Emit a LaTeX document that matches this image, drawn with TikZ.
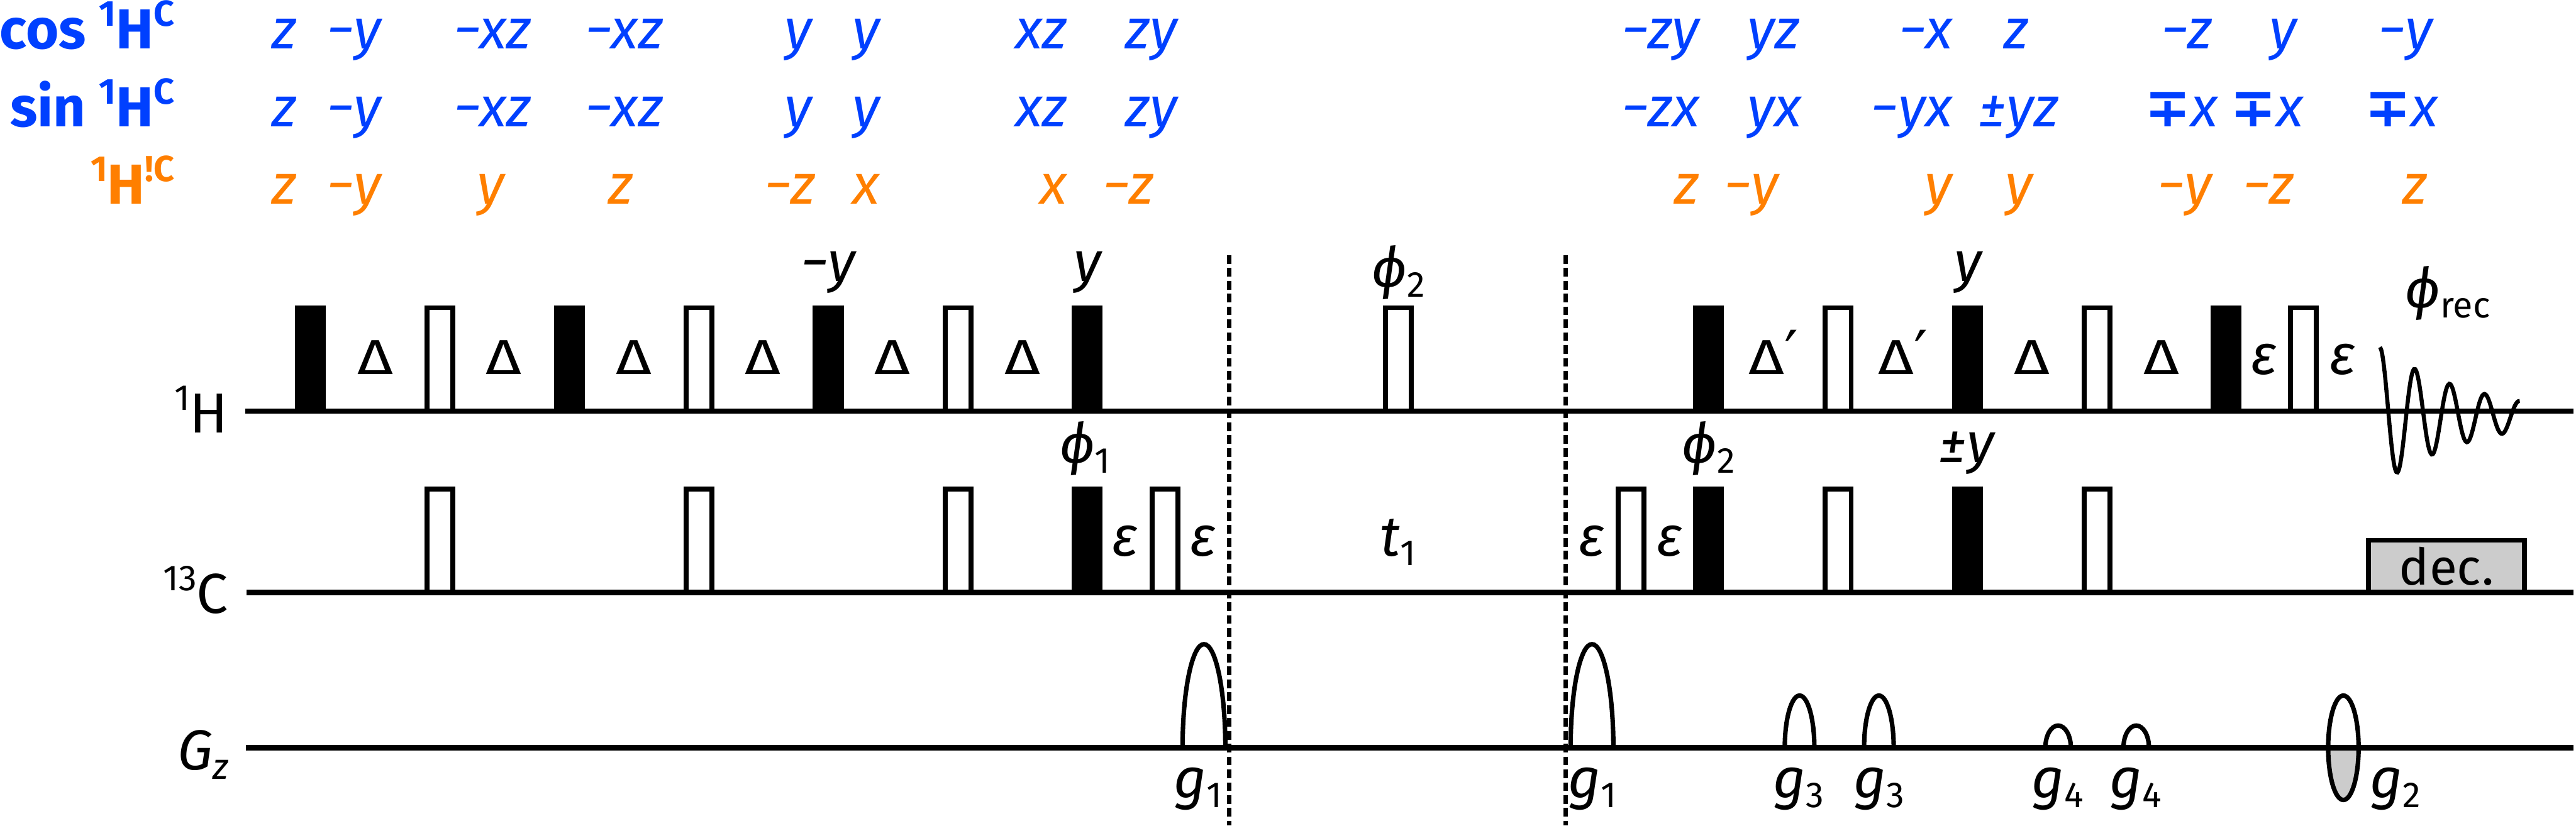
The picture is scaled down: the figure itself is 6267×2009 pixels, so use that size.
\documentclass[tikz,border=0pt]{standalone}
\usepackage{fontspec}
\setmainfont{Fira Sans}
\newfontfamily\symf{DejaVu Sans}
\usepackage{xcolor}
\usepackage{graphicx}
\usetikzlibrary{arrows.meta,positioning,calc}
\definecolor{cosblue}{HTML}{0040FF}
\definecolor{offorange}{HTML}{FF7F00}
\newcommand{\fs}[1]{\fontsize{#1}{#1}\selectfont}
\newcommand{\upr}[1]{\raisebox{15.6pt}{\fs{25}#1}}
\newcommand{\dnr}[1]{\raisebox{-6.5pt}{\fs{25}\upshape #1}}
\newcommand{\mpm}{{\symf\upshape\bfseries\fs{38}∓}}
\newcommand{\dlt}{\scalebox{1.25}[1]{Δ}}
\newcommand{\prm}{{\symf\fs{42}′}}

\begin{document}
\begin{tikzpicture}[x=0.01cm, y=-0.01cm,
  chan/.style={line width=3.6pt},
  hrd/.style={rectangle,fill=black,inner sep=0,outer sep=0,anchor=south,minimum width=0.75cm,minimum height=2.64cm},
  sft/.style={rectangle,draw,fill=white,line width=3.4pt,inner sep=0,anchor=south,minimum width=0.63cm,minimum height=2.52cm},
  decb/.style={rectangle,draw,fill=black!20,line width=3.4pt,inner sep=0,anchor=south,minimum width=3.79cm,minimum height=1.27cm,font=\fs{35}},
  grd/.style={line width=3.1pt},
  sep/.style={line width=3pt,dash pattern=on 6pt off 2.9pt},
  lbl/.style={anchor=base,inner sep=0,font=\fs{39}\itshape},
  dly/.style={anchor=base,inner sep=0,font=\fs{34}},
  chn/.style={anchor=base east,inner sep=0,font=\fs{39}},
  ttl/.style={anchor=base east,inner sep=0,font=\fs{39}\bfseries},
  cs/.style={lbl,text=cosblue},
  of/.style={lbl,text=offorange}]
  \useasboundingbox (0,0) rectangle (6267,2009);
  % Row titles
  \node[ttl,text=cosblue] (tcos) at (425,119) {cos \upr{1}H\upr{C}};
  \node[ttl,text=cosblue] (tsin) at (425,308) {sin \upr{1}H\upr{C}};
  \node[ttl,text=offorange] (toff) at (425,497) {\upr{1}H\upr{!C}};
  % Coherences: cos row
  \node[cs] (c1) at (691,119) {z};
  \node[cs] (c2) at (861,119) {−y};
  \node[cs] (c3) at (1198,119) {−xz};
  \node[cs] (c4) at (1518,119) {−xz};
  \node[cs] (c5) at (1942,119) {y};
  \node[cs] (c6) at (2107,119) {y};
  \node[cs] (c7) at (2533,119) {xz};
  \node[cs] (c8) at (2801,119) {zy};
  \node[cs] (c9) at (4040,119) {−zy};
  \node[cs] (c10) at (4314,119) {yz};
  \node[cs] (c11) at (4685,119) {−x};
  \node[cs] (c12) at (4905,119) {z};
  \node[cs] (c13) at (5320,119) {−z};
  \node[cs] (c14) at (5555,119) {y};
  \node[cs] (c15) at (5852,119) {−y};
  % Coherences: sin row
  \node[cs] (s1) at (691,308) {z};
  \node[cs] (s2) at (861,308) {−y};
  \node[cs] (s3) at (1198,308) {−xz};
  \node[cs] (s4) at (1518,308) {−xz};
  \node[cs] (s5) at (1942,308) {y};
  \node[cs] (s6) at (2107,308) {y};
  \node[cs] (s7) at (2533,308) {xz};
  \node[cs] (s8) at (2801,308) {zy};
  \node[cs] (s9) at (4040,308) {−zx};
  \node[cs] (s10) at (4317,308) {yx};
  \node[cs] (s11) at (4651,308) {−yx};
  \node[cs] (s12) at (4911,308) {±yz};
  \node[cs] (s13) at (5307,308) {\mpm x};
  \node[cs] (s14) at (5515,308) {\mpm x};
  \node[cs] (s15) at (5842,308) {\mpm x};
  % Coherences: off row
  \node[of] (o1) at (691,497) {z};
  \node[of] (o2) at (861,497) {−y};
  \node[of] (o3) at (1194,497) {y};
  \node[of] (o4) at (1510,497) {z};
  \node[of] (o5) at (1921,497) {−z};
  \node[of] (o6) at (2107,497) {x};
  \node[of] (o7) at (2563,497) {x};
  \node[of] (o8) at (2745,497) {−z};
  \node[of] (o9) at (4103,497) {z};
  \node[of] (o10) at (4261,497) {−y};
  \node[of] (o11) at (4716,497) {y};
  \node[of] (o12) at (4911,497) {y};
  \node[of] (o13) at (5315,497) {−y};
  \node[of] (o14) at (5518,497) {−z};
  \node[of] (o15) at (5875,497) {z};
  % Channels
  \node[chn] (lH) at (556,1053) {\upr{1}H};
  \node[chn] (lC) at (556,1493) {\upr{13}C};
  \node[chn] (lG) at (556,1873) {\textit{G}\dnr{\itshape z}};
  \coordinate (hs) at (597,1001);
  \coordinate (he) at (6261,1001);
  \coordinate (cs) at (600,1442);
  \coordinate (ce) at (6261,1442);
  \coordinate (gs) at (598,1820);
  \coordinate (ge) at (6261,1820);
  % Left: proton pulses
  \node[hrd] (h1) at (755,1007) {};
  \node[sft] (h2) at (1070,1007) {};
  \node[hrd] (h3) at (1386,1007) {};
  \node[sft] (h4) at (1701,1007) {};
  \node[hrd] (h5) at (2015,1007) {};
  \node[sft] (h6) at (2331,1007) {};
  \node[hrd] (h7) at (2645,1007) {};
  % Middle and right: proton pulses
  \node[sft] (h8) at (3402,1007) {};
  \node[hrd] (h9) at (4156,1007) {};
  \node[sft] (h10) at (4472,1007) {};
  \node[hrd] (h11) at (4787,1007) {};
  \node[sft] (h12) at (5102,1007) {};
  \node[hrd] (h13) at (5416,1007) {};
  \node[sft] (h14) at (5604,1007) {};
  % Carbon pulses
  \node[sft] (k1) at (1070,1448) {};
  \node[sft] (k2) at (1701,1448) {};
  \node[sft] (k3) at (2331,1448) {};
  \node[hrd] (k4) at (2645,1448) {};
  \node[sft] (k5) at (2834,1448) {};
  \node[sft] (k6) at (3968,1448) {};
  \node[hrd] (k7) at (4156,1448) {};
  \node[sft] (k8) at (4472,1448) {};
  \node[hrd] (k9) at (4787,1448) {};
  \node[sft] (k10) at (5102,1448) {};
  \node[decb] (dec) at (5952,1448) {dec.};
  % Gradients
  \draw[grd] (2877,1820) arc[start angle=180,end angle=0,x radius=0.52cm,y radius=2.52cm];
  \draw[grd] (3821,1820) arc[start angle=180,end angle=0,x radius=0.52cm,y radius=2.52cm];
  \draw[grd] (4342,1820) arc[start angle=180,end angle=0,x radius=0.36cm,y radius=1.27cm];
  \draw[grd] (4535,1820) arc[start angle=180,end angle=0,x radius=0.36cm,y radius=1.27cm];
  \draw[grd] (4976,1820) arc[start angle=180,end angle=0,x radius=0.31cm,y radius=0.54cm];
  \draw[grd] (5166,1820) arc[start angle=180,end angle=0,x radius=0.31cm,y radius=0.54cm];
  \draw[grd,fill=black!20] (5664,1820) arc[start angle=180,end angle=360,x radius=0.37cm,y radius=1.27cm];
  \draw[grd] (5664,1820) arc[start angle=180,end angle=0,x radius=0.37cm,y radius=1.27cm];
  \draw[chan] (hs) -- (he);
  \draw[chan] (cs) -- (ce);
  \draw[chan] (gs) -- (ge);
  % Receiver
  \draw[line width=2.8pt] plot[smooth,samples=120,domain=0:340] ({5790+\x},{1012-167*exp(-0.0045*\x)*cos(4.235*\x)});
  % Period borders
  \coordinate (p1) at (2990,621);
  \coordinate (q1) at (2990,2009);
  \coordinate (p2) at (3809,621);
  \coordinate (q2) at (3809,2009);
  \draw[sep] (p1) -- (q1);
  \draw[sep] (p2) -- (q2);
  % Phases
  \node[lbl] (a1) at (2015,685) {−y};
  \node[lbl] (a2) at (2646,685) {y};
  \node[lbl] (a3) at (4788,685) {y};
  \node[lbl] (a4) at (3402,700) {ϕ\dnr{2}};
  \node[lbl] (a5) at (5955,750) {ϕ\dnr{\fs{25}rec}};
  \node[lbl] (a6) at (2640,1128) {ϕ\dnr{1}};
  \node[lbl] (a7) at (4157,1128) {ϕ\dnr{2}};
  \node[lbl] (a8) at (4785,1126) {±y};
  % Delays
  \node[dly] (d1) at (913,911) {\dlt};
  \node[dly] (d2) at (1226,911) {\dlt};
  \node[dly] (d3) at (1542,911) {\dlt};
  \node[dly] (d4) at (1856,911) {\dlt};
  \node[dly] (d5) at (2171,911) {\dlt};
  \node[dly] (d6) at (2487,911) {\dlt};
  \node[dly] (d7) at (4315,911) {\dlt\prm};
  \node[dly] (d8) at (4630,911) {\dlt\prm};
  \node[dly] (d9) at (4944,911) {\dlt};
  \node[dly] (d10) at (5258,911) {\dlt};
  \node[lbl] (e1) at (5508,911) {ε};
  \node[lbl] (e2) at (5700,911) {ε};
  \node[lbl] (e3) at (2738,1353) {ε};
  \node[lbl] (e4) at (2927,1353) {ε};
  \node[lbl] (e5) at (3873,1353) {ε};
  \node[lbl] (e6) at (4063,1353) {ε};
  \node[lbl] (t1) at (3401,1353) {t\dnr{1}};
  % Gradient labels
  \node[lbl] (g1) at (2915,1943) {g\dnr{1}};
  \node[lbl] (g2) at (3874,1943) {g\dnr{1}};
  \node[lbl] (g3) at (4376,1943) {g\dnr{3}};
  \node[lbl] (g4) at (4571,1943) {g\dnr{3}};
  \node[lbl] (g5) at (5006,1943) {g\dnr{4}};
  \node[lbl] (g6) at (5196,1943) {g\dnr{4}};
  \node[lbl] (g7) at (5827,1943) {g\dnr{2}};
\end{tikzpicture}
\end{document}
